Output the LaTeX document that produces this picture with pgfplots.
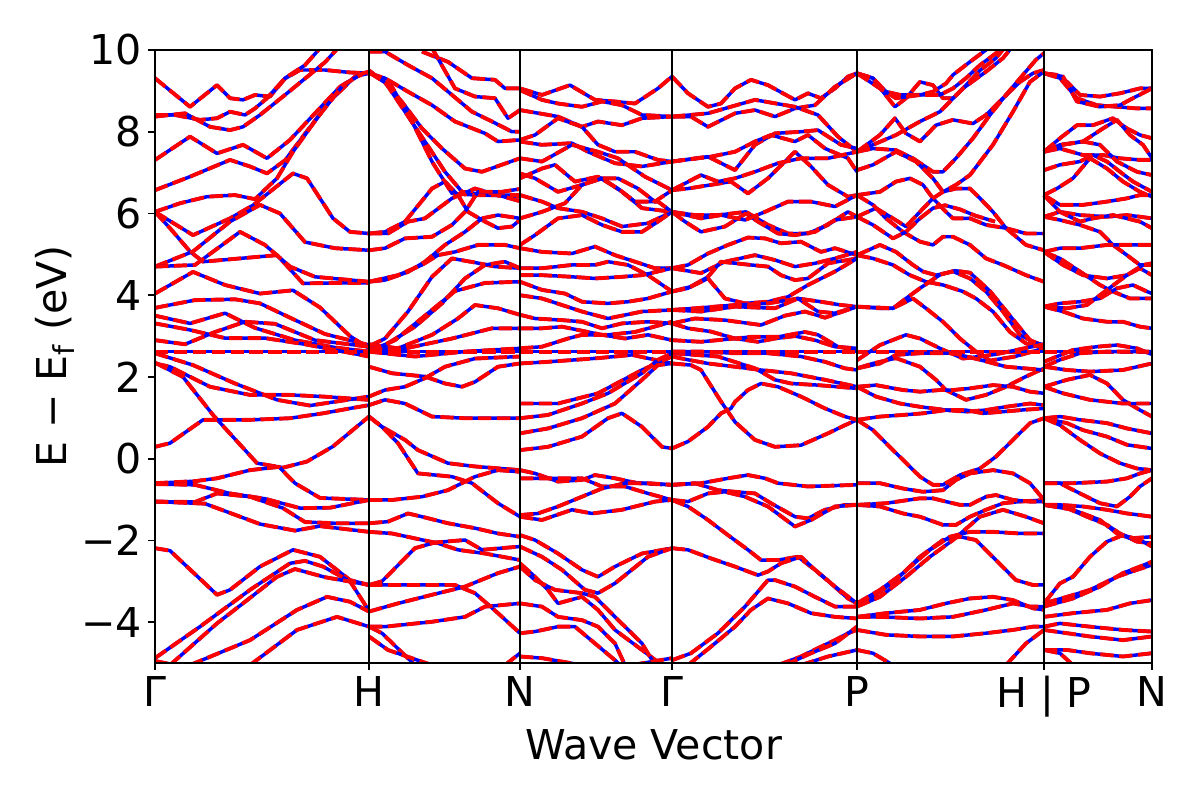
\documentclass[border=0pt]{standalone}
\usepackage{fontspec}
\setmainfont{DejaVu Sans}
\usepackage{pgfplots}
\pgfplotsset{compat=1.18}
\pgfplotsset{band/.style={red, line width=1.4pt, line join=round, dash pattern=on 4.8pt off 2.0pt, preaction={draw=blue, solid, line width=1.25pt, line join=round}}}
\begin{document}
\begin{tikzpicture}
\path[use as bounding box] (-55.8pt,-49.3pt) rectangle (376.2pt,238.7pt);
\begin{axis}[
 scale only axis, width=358.9pt, height=220.7pt,
 xmin=0, xmax=997, ymin=-5, ymax=10,
 xtick={0,214,365,517,702,889,997},
 xticklabels={Γ,H,N,Γ,P,H | P,N},
 ytick={-4,-2,0,2,4,6,8,10},
 yticklabels={−4,−2,0,2,4,6,8,10},
 tick align=outside, tick pos=left,
 major tick length=2.5pt,
 every tick/.style={black, line width=0.6pt},
 tick label style={font=\fontsize{14.8}{17}\selectfont, inner sep=2pt},
 xlabel={Wave Vector}, ylabel={E − E\textsubscript{f} (eV)},
 every axis x label/.style={at={(axis description cs:0.5,-0.134)}, anchor=center, font=\fontsize{14.8}{17}\selectfont},
 every axis y label/.style={at={(axis description cs:-0.1,0.5)}, anchor=center, rotate=90, font=\fontsize{14.8}{17}\selectfont},
 axis line style={line width=0.6pt},
 axis on top, xmajorgrids, major x grid style={black, line width=0.6pt},
]
% ---------- Gamma - H ----------
\addplot[band] coordinates {(0,9.31)(35,8.61)(62,9.14)(75,8.82)(88,8.78)(100,8.9)(115,8.86)(130,9.3)(145,9.51)(170,9.51)(195,9.45)(214,9.43)};
\addplot[band] coordinates {(0,8.41)(20,8.41)(45,8.29)(62,8.33)(75,8.49)(90,8.41)(100,8.57)(112,8.82)(130,9.31)(150,9.63)(162,9.96)(170,10.2)};
\addplot[band] coordinates {(0,8.37)(30,8.45)(55,8.12)(75,8.04)(88,8.12)(105,8.41)(130,8.9)(150,9.3)(170,9.7)(185,10.1)};
\addplot[band] coordinates {(0,7.31)(35,7.88)(62,7.47)(88,7.68)(112,7.35)(135,7.8)(160,8.45)(185,9.1)(205,9.4)(214,9.45)};
\addplot[band] coordinates {(0,6.57)(35,6.9)(75,7.31)(95,7.15)(112,6.98)(130,7.3)(150,7.95)(175,8.75)(200,9.35)(214,9.43)};
\addplot[band] coordinates {(0,6.04)(25,6.25)(52,6.41)(80,6.45)(100,6.35)(122,6.86)(138,7.51)(162,8.33)(188,9.14)(208,9.43)(214,9.47)};
\addplot[band] coordinates {(0,6.04)(15,5.64)(35,5.07)(48,4.82)(85,4.9)(122,4.98)(148,4.29)(180,4.3)(214,4.3)};
\addplot[band] coordinates {(0,6.04)(38,5.47)(75,5.88)(98,6.2)(138,6.98)(152,6.86)(178,5.88)(195,5.55)(214,5.51)};
\addplot[band] coordinates {(0,4.7)(38,5.07)(75,5.8)(105,6.21)(125,6.0)(150,5.3)(180,5.15)(214,5.1)};
\addplot[band] coordinates {(0,4.7)(40,4.74)(85,5.55)(110,5.23)(135,4.7)(160,4.45)(214,4.33)};
\addplot[band] coordinates {(0,4.04)(38,4.57)(70,4.25)(105,4.04)(138,4.12)(165,3.7)(195,3.0)(214,2.7)};
\addplot[band] coordinates {(0,3.69)(40,3.88)(80,3.9)(105,3.8)(135,3.45)(170,3.05)(214,2.78)};
\addplot[band] coordinates {(0,3.5)(35,3.31)(70,3.56)(100,3.2)(140,2.9)(180,2.72)(214,2.62)};
\addplot[band] coordinates {(0,3.31)(35,3.15)(70,2.95)(110,2.95)(150,2.8)(214,2.5)};
\addplot[band] coordinates {(0,2.9)(30,2.8)(60,3.1)(90,3.35)(120,3.3)(160,2.9)(214,2.74)};
\addplot[band] coordinates {(0,2.62)(214,2.62)};
\addplot[band] coordinates {(0,2.58)(38,2.29)(80,1.84)(122,1.44)(155,1.3)(214,1.52)};
\addplot[band] coordinates {(0,2.33)(15,2.25)(55,1.76)(95,1.56)(135,1.56)(168,1.52)(214,1.44)};
\addplot[band] coordinates {(0,2.35)(28,2.0)(58,1.07)(102,-0.11)(128,-0.22)(152,-0.07)(178,0.3)(214,1.03)};
\addplot[band] coordinates {(0,0.29)(15,0.38)(48,0.95)(95,0.95)(135,0.99)(168,1.11)(195,1.23)(214,1.31)};
\addplot[band] coordinates {(0,-0.6)(40,-0.55)(62,-0.48)(95,-0.28)(124,-0.2)(140,-0.6)(165,-0.96)(214,-1.01)};
\addplot[band] coordinates {(0,-0.62)(40,-0.64)(75,-0.85)(110,-0.98)(145,-1.21)(175,-1.2)(214,-1.01)};
\addplot[band] coordinates {(0,-1.05)(40,-1.06)(62,-0.85)(95,-0.93)(128,-1.21)(150,-1.55)(180,-1.58)(214,-1.58)};
\addplot[band] coordinates {(0,-1.05)(50,-1.1)(105,-1.6)(140,-1.76)(165,-1.65)(214,-1.79)};
\addplot[band] coordinates {(0,-2.19)(15,-2.25)(62,-3.33)(75,-3.21)(105,-2.64)(138,-2.23)(165,-2.4)(195,-2.97)(214,-3.09)};
\addplot[band] coordinates {(0,-4.88)(45,-4.11)(95,-3.21)(135,-2.56)(150,-2.5)(168,-2.64)(195,-3.0)(214,-3.72)};
\addplot[band] coordinates {(15,-5.05)(62,-4.03)(88,-3.54)(122,-2.89)(140,-2.7)(170,-2.9)(214,-3.09)};
\addplot[band] coordinates {(35,-5.05)(95,-4.44)(142,-3.7)(172,-3.38)(195,-3.5)(214,-3.74)};
\addplot[band] coordinates {(95,-5.05)(142,-4.19)(182,-3.87)(214,-4.11)};
\addplot[band] coordinates {(0,-4.95)(20,-5.05)};
% ---------- H - N ----------
\addplot[band] coordinates {(214,9.96)(230,9.96)(253,9.63)(277,9.31)(297,8.9)(317,8.49)(337,8.25)(357,8.0)(365,8.0)};
\addplot[band] coordinates {(267,9.96)(293,9.71)(317,9.31)(340,9.27)(350,9.06)(365,9.06)};
\addplot[band] coordinates {(277,10.05)(300,9.06)(320,8.86)(340,8.82)(353,8.33)(365,8.53)};
\addplot[band] coordinates {(214,9.43)(230,9.31)(253,8.98)(277,8.65)(300,8.25)(330,7.96)(343,7.76)(365,7.8)};
\addplot[band] coordinates {(214,9.5)(230,9.2)(247,8.73)(267,8.08)(287,7.59)(310,7.1)(327,7.02)(365,7.35)};
\addplot[band] coordinates {(230,9.22)(250,8.49)(270,7.76)(290,7.02)(307,6.53)(333,6.45)(365,6.41)};
\addplot[band] coordinates {(214,9.45)(237,9.1)(257,8.25)(277,7.27)(297,6.49)(320,6.45)(365,6.45)};
\addplot[band] coordinates {(214,5.51)(230,5.55)(250,5.8)(277,6.61)(290,6.78)(303,6.45)(313,6.04)(330,5.8)(343,5.64)(357,5.68)(365,5.84)};
\addplot[band] coordinates {(214,5.51)(233,5.51)(253,5.8)(270,5.88)(297,6.37)(320,6.61)(343,6.45)(365,6.3)};
\addplot[band] coordinates {(214,5.1)(230,5.15)(250,5.39)(277,5.43)(297,5.72)(310,6.04)(323,6.53)(347,6.53)(365,6.6)};
\addplot[band] coordinates {(214,4.33)(230,4.37)(253,4.57)(270,4.82)(290,5.23)(310,5.55)(327,5.88)(343,5.96)(365,5.88)};
\addplot[band] coordinates {(214,4.33)(243,4.49)(267,4.74)(283,4.98)(300,5.06)(323,5.23)(350,5.23)(365,5.15)};
\addplot[band] coordinates {(214,2.75)(230,2.94)(253,3.6)(277,4.45)(297,4.9)(320,4.8)(340,4.7)(365,4.66)};
\addplot[band] coordinates {(214,2.7)(230,2.78)(260,3.23)(287,3.8)(310,4.41)(330,4.74)(350,4.82)(365,4.66)};
\addplot[band] coordinates {(214,2.8)(243,2.7)(277,3.03)(303,3.43)(320,3.76)(343,3.68)(365,3.52)};
\addplot[band] coordinates {(214,2.7)(243,2.66)(297,2.94)(337,3.19)(365,3.19)};
\addplot[band] coordinates {(214,2.62)(260,2.5)(310,2.62)(365,2.7)};
\addplot[band] coordinates {(214,2.62)(240,2.9)(270,3.5)(300,4.1)(330,4.3)(365,4.33)};
\addplot[band] coordinates {(214,2.62)(365,2.62)};
\addplot[band] coordinates {(214,2.25)(237,2.09)(270,2.01)(290,1.84)(307,1.76)(320,1.88)(343,2.25)(365,2.33)};
\addplot[band] coordinates {(214,1.52)(230,1.68)(250,1.76)(270,1.97)(290,2.25)(320,2.45)(365,2.5)};
\addplot[band] coordinates {(214,1.31)(230,1.44)(250,1.35)(277,1.03)(310,0.99)(343,0.99)(365,0.99)};
\addplot[band] coordinates {(214,1.03)(227,0.78)(250,0.46)(263,0.21)(293,-0.11)(320,-0.19)(365,-0.28)};
\addplot[band] coordinates {(214,1.03)(227,0.78)(243,0.38)(263,-0.36)(297,-0.44)(317,-0.6)(343,-1.09)(365,-1.42)};
\addplot[band] coordinates {(214,-1.01)(237,-1.01)(267,-0.93)(293,-0.77)(320,-0.44)(343,-0.28)(365,-0.32)};
\addplot[band] coordinates {(214,-1.58)(233,-1.54)(253,-1.34)(267,-1.42)(293,-1.58)(320,-1.7)(343,-1.83)(365,-1.91)};
\addplot[band] coordinates {(214,-1.79)(237,-1.83)(260,-1.95)(283,-2.07)(303,-2.23)(330,-2.32)(365,-2.48)};
\addplot[band] coordinates {(214,-3.09)(227,-3.0)(260,-2.19)(280,-2.05)(310,-1.99)(327,-2.23)(365,-2.15)};
\addplot[band] coordinates {(214,-3.09)(243,-3.09)(300,-3.09)(320,-3.29)(343,-3.78)(365,-4.27)};
\addplot[band] coordinates {(214,-3.74)(243,-3.54)(277,-3.33)(310,-3.13)(343,-2.8)(365,-2.64)};
\addplot[band] coordinates {(214,-4.11)(230,-4.11)(277,-3.99)(310,-3.87)(330,-3.62)(365,-3.54)};
\addplot[band] coordinates {(214,-4.11)(227,-4.27)(260,-5.05)};
\addplot[band] coordinates {(214,-4.35)(233,-4.68)(277,-5.05)};
\addplot[band] coordinates {(350,-5.05)(365,-4.76)};
% ---------- N - Gamma ----------
\addplot[band] coordinates {(365,9.06)(387,8.9)(415,9.14)(440,8.78)(460,8.74)(480,8.69)(503,9.06)(517,9.35)};
\addplot[band] coordinates {(365,9.02)(387,8.78)(403,8.69)(427,8.61)(447,8.74)(467,8.65)(487,8.41)(517,8.37)};
\addplot[band] coordinates {(365,8.53)(403,8.37)(427,8.12)(443,8.25)(467,8.16)(487,8.33)(517,8.37)};
\addplot[band] coordinates {(365,7.8)(380,7.92)(403,8.33)(427,8.12)(443,7.68)(460,7.51)(480,7.51)(503,7.31)(517,7.27)};
\addplot[band] coordinates {(365,7.76)(387,7.68)(417,7.72)(433,7.51)(460,7.23)(487,7.15)(517,7.27)};
\addplot[band] coordinates {(365,7.35)(387,7.27)(417,7.68)(443,7.51)(463,7.35)(490,6.9)(517,6.57)};
\addplot[band] coordinates {(365,6.98)(380,6.86)(403,6.53)(427,6.7)(447,6.86)(467,6.53)(487,6.13)(517,6.04)};
\addplot[band] coordinates {(365,6.86)(387,7.1)(400,7.19)(420,6.78)(443,6.9)(463,6.61)(480,6.29)(503,6.29)(517,6.04)};
\addplot[band] coordinates {(365,6.45)(387,6.29)(403,6.13)(427,6.04)(447,5.88)(467,5.68)(493,5.76)(517,6.04)};
\addplot[band] coordinates {(365,5.88)(387,6.04)(410,6.25)(427,6.7)(447,6.86)(463,6.86)(483,6.61)(500,6.29)(517,6.57)};
\addplot[band] coordinates {(365,5.23)(380,5.47)(403,5.88)(427,5.96)(447,5.72)(467,5.55)(487,5.55)(503,5.8)(517,6.04)};
\addplot[band] coordinates {(365,5.15)(387,5.06)(417,5.02)(440,5.19)(460,4.98)(480,4.82)(500,4.66)(517,4.66)};
\addplot[band] coordinates {(365,4.66)(387,4.66)(417,4.74)(440,4.74)(453,4.82)(473,4.74)(493,4.49)(517,4.09)};
\addplot[band] coordinates {(365,4.49)(387,4.49)(417,4.45)(440,4.41)(467,4.45)(487,4.49)(517,4.66)};
\addplot[band] coordinates {(365,4.33)(387,4.13)(410,4.04)(427,3.84)(453,3.8)(473,3.84)(493,3.92)(517,4.09)};
\addplot[band] coordinates {(365,4.0)(387,3.92)(427,3.6)(453,3.43)(487,3.6)(517,3.64)};
\addplot[band] coordinates {(365,3.52)(380,3.43)(407,3.39)(427,3.35)(447,3.19)(467,3.31)(493,3.35)(517,3.31)};
\addplot[band] coordinates {(365,3.19)(387,3.19)(407,3.23)(447,3.03)(470,2.94)(493,3.03)(517,2.9)};
\addplot[band] coordinates {(365,2.7)(387,2.74)(413,2.94)(427,3.03)(453,3.03)(480,3.1)(517,3.35)};
\addplot[band] coordinates {(365,2.62)(517,2.62)};
\addplot[band] coordinates {(365,2.33)(393,2.37)(443,2.46)(477,2.54)(517,2.33)};
\addplot[band] coordinates {(365,1.35)(403,1.35)(443,1.6)(487,2.17)(517,2.5)};
\addplot[band] coordinates {(365,0.99)(393,1.07)(427,1.35)(453,1.6)(487,2.09)(503,2.42)(517,2.58)};
\addplot[band] coordinates {(365,0.62)(393,0.74)(427,0.99)(460,1.35)(487,1.93)(503,2.29)(517,2.33)};
\addplot[band] coordinates {(365,0.21)(393,0.29)(427,0.54)(453,0.99)(467,1.11)(487,0.78)(507,0.29)(517,0.25)};
\addplot[band] coordinates {(365,-0.28)(380,-0.36)(403,-0.56)(427,-0.52)(440,-0.4)(460,-0.48)(483,-0.6)(517,-0.64)};
\addplot[band] coordinates {(365,-0.48)(380,-0.48)(427,-0.48)(447,-0.68)(470,-0.68)(493,-0.85)(517,-1.01)};
\addplot[band] coordinates {(365,-1.38)(383,-1.34)(403,-1.17)(427,-0.93)(447,-0.73)(470,-0.6)(493,-0.6)(517,-0.64)};
\addplot[band] coordinates {(365,-1.42)(387,-1.5)(417,-1.25)(437,-1.34)(467,-1.25)(500,-1.05)(517,-1.01)};
\addplot[band] coordinates {(365,-1.87)(380,-1.99)(403,-2.32)(427,-2.72)(443,-2.89)(460,-2.64)(487,-2.32)(517,-2.19)};
\addplot[band] coordinates {(365,-2.15)(387,-2.4)(407,-2.72)(430,-3.21)(443,-3.29)(460,-3.05)(493,-2.4)(517,-2.19)};
\addplot[band] coordinates {(365,-2.56)(380,-2.89)(393,-3.21)(403,-3.54)(427,-3.38)(443,-3.7)(460,-4.19)(487,-4.68)(507,-5.05)};
\addplot[band] coordinates {(365,-2.64)(380,-2.97)(400,-3.21)(427,-3.29)(440,-3.38)(460,-3.87)(487,-4.52)(500,-5.05)};
\addplot[band] coordinates {(365,-3.54)(387,-3.62)(403,-3.87)(427,-3.95)(443,-4.11)(460,-4.52)(470,-5.05)};
\addplot[band] coordinates {(365,-4.27)(380,-4.23)(403,-4.11)(420,-4.11)(440,-4.52)(460,-4.93)(465,-5.05)};
\addplot[band] coordinates {(365,-4.84)(387,-4.88)(427,-5.05)};
\addplot[band] coordinates {(477,-5.05)(517,-4.88)};
% ---------- Gamma - P ----------
\addplot[band] coordinates {(517,9.35)(533,8.94)(553,8.61)(566,8.69)(580,9.06)(596,9.27)(613,9.14)(640,8.78)(653,8.94)(666,8.82)(680,9.06)(693,9.35)(702,9.43)};
\addplot[band] coordinates {(517,8.37)(536,8.37)(553,8.12)(580,8.45)(600,8.53)(620,8.37)(640,8.57)(660,8.65)(680,9.1)(702,9.43)};
\addplot[band] coordinates {(517,8.37)(553,8.45)(600,8.78)(640,8.61)(663,8.41)(683,7.88)(702,7.51)};
\addplot[band] coordinates {(517,7.27)(553,7.39)(580,7.06)(600,7.68)(620,7.96)(646,8.0)(663,8.04)(686,7.68)(702,7.59)};
\addplot[band] coordinates {(517,7.27)(556,7.39)(580,7.51)(600,7.76)(616,7.92)(640,7.76)(653,7.92)(670,7.59)(693,7.35)(702,7.02)};
\addplot[band] coordinates {(517,6.57)(533,6.61)(556,6.7)(576,6.78)(593,6.49)(613,6.86)(640,7.51)(656,7.15)(673,6.7)(693,6.41)(702,6.45)};
\addplot[band] coordinates {(517,6.57)(546,6.94)(563,6.78)(580,6.86)(600,7.02)(623,7.23)(646,7.35)(673,7.35)(702,7.51)};
\addplot[band] coordinates {(517,6.04)(540,5.96)(563,5.96)(591,6.04)(613,5.72)(633,5.51)(653,5.51)(673,5.72)(693,6.04)(702,5.92)};
\addplot[band] coordinates {(517,6.04)(530,5.8)(546,5.55)(570,5.68)(591,6.0)(603,5.8)(623,5.51)(640,5.47)(660,5.55)(680,5.84)(702,5.92)};
\addplot[band] coordinates {(517,6.04)(546,5.88)(566,5.96)(590,5.84)(610,6.04)(633,6.29)(656,6.29)(680,6.17)(702,6.45)};
\addplot[band] coordinates {(517,4.66)(533,4.74)(553,5.02)(573,5.23)(593,5.41)(610,5.39)(626,5.27)(646,5.31)(666,5.06)(680,5.15)(702,4.98)};
\addplot[band] coordinates {(517,4.66)(546,4.54)(570,4.82)(600,4.98)(620,4.86)(640,4.7)(660,4.78)(680,4.9)(702,5.06)};
\addplot[band] coordinates {(517,4.09)(533,4.17)(553,4.45)(566,4.82)(596,4.74)(613,4.7)(626,4.49)(640,4.37)(653,4.41)(673,4.78)(702,4.9)};
\addplot[band] coordinates {(517,4.09)(536,4.21)(553,4.41)(570,3.92)(590,3.8)(613,3.84)(633,3.96)(653,4.25)(680,4.58)(702,4.9)};
\addplot[band] coordinates {(517,3.64)(540,3.68)(580,3.76)(613,3.8)(643,3.92)(663,3.6)(680,3.56)(702,3.72)};
\addplot[band] coordinates {(517,3.64)(546,3.6)(580,3.72)(620,3.68)(643,3.92)(666,3.84)(686,3.76)(702,3.72)};
\addplot[band] coordinates {(517,3.31)(533,3.19)(556,3.11)(580,2.94)(603,2.86)(620,2.94)(640,3.0)(660,2.9)(680,2.74)(702,2.7)};
\addplot[band] coordinates {(517,3.31)(540,3.43)(570,3.39)(606,3.27)(630,3.5)(650,3.6)(670,3.45)(702,3.72)};
\addplot[band] coordinates {(517,2.9)(546,2.86)(596,2.98)(623,2.98)(650,3.1)(663,3.03)(683,2.74)(702,2.66)};
\addplot[band] coordinates {(517,2.62)(702,2.62)};
\addplot[band] coordinates {(517,2.33)(536,2.29)(546,2.17)(566,1.4)(580,0.9)(600,0.46)(620,0.29)(646,0.33)(673,0.62)(690,0.82)(702,0.95)};
\addplot[band] coordinates {(517,0.25)(533,0.42)(553,0.78)(566,1.11)(576,1.23)(580,1.39)(593,1.68)(606,1.84)(623,1.76)(646,1.52)(670,1.23)(690,1.03)(702,0.95)};
\addplot[band] coordinates {(517,2.5)(533,2.42)(553,2.33)(580,2.25)(606,2.17)(636,2.09)(670,1.93)(702,1.76)};
\addplot[band] coordinates {(517,2.58)(563,2.5)(600,2.21)(620,1.93)(636,1.84)(663,1.8)(702,1.72)};
\addplot[band] coordinates {(517,2.62)(546,2.62)(580,2.58)(613,2.58)(646,2.5)(670,2.37)(690,2.21)(702,2.17)};
\addplot[band] coordinates {(517,-0.64)(546,-0.6)(573,-0.48)(593,-0.4)(610,-0.48)(623,-0.6)(653,-0.68)(702,-0.64)};
\addplot[band] coordinates {(517,-0.64)(540,-0.6)(563,-0.77)(580,-0.81)(600,-0.85)(616,-1.09)(640,-1.42)(653,-1.46)(670,-1.25)(690,-1.13)(702,-1.13)};
\addplot[band] coordinates {(517,-1.01)(533,-1.05)(553,-0.85)(570,-0.81)(590,-0.93)(613,-1.17)(640,-1.66)(656,-1.5)(680,-1.17)(702,-1.13)};
\addplot[band] coordinates {(517,-1.01)(533,-1.17)(553,-1.5)(573,-1.87)(593,-2.23)(606,-2.48)(623,-2.48)(643,-2.4)(660,-2.72)(676,-3.05)(693,-3.42)(702,-3.54)};
\addplot[band] coordinates {(517,-2.19)(533,-2.23)(556,-2.44)(580,-2.64)(603,-2.85)(613,-2.76)(626,-2.56)(646,-2.4)(660,-2.72)(680,-3.13)(702,-3.54)};
\addplot[band] coordinates {(517,-4.93)(536,-4.76)(563,-4.27)(590,-3.62)(613,-2.97)(620,-2.97)(640,-3.13)(660,-3.38)(680,-3.62)(702,-3.62)};
\addplot[band] coordinates {(533,-5.05)(556,-4.6)(580,-4.11)(596,-3.7)(613,-3.42)(633,-3.54)(656,-3.78)(680,-3.87)(702,-3.91)};
\addplot[band] coordinates {(623,-5.05)(646,-4.84)(666,-4.6)(680,-4.44)(693,-4.27)(702,-4.19)};
\addplot[band] coordinates {(630,-5.05)(656,-4.76)(680,-4.52)(702,-4.11)};
\addplot[band] coordinates {(646,-5.05)(673,-4.84)(702,-4.68)};
% ---------- P - H ----------
\addplot[band] coordinates {(702,9.43)(718,9.31)(728,8.98)(740,8.61)(751,8.82)(765,9.22)(778,9.14)(788,8.82)(798,8.82)(808,9.06)(825,9.5)(841,9.8)(851,10.1)};
\addplot[band] coordinates {(702,9.43)(718,9.31)(731,8.98)(745,8.9)(765,8.9)(778,8.98)(791,9.18)(798,9.39)(815,9.71)(831,10.0)(835,10.1)};
\addplot[band] coordinates {(702,9.43)(725,9.06)(741,8.82)(765,8.9)(785,8.9)(798,9.06)(811,9.31)(825,9.63)(841,9.92)(848,10.1)};
\addplot[band] coordinates {(702,7.51)(718,7.68)(741,7.92)(765,8.25)(785,8.49)(808,9.06)(831,9.47)(848,9.8)(858,10.1)};
\addplot[band] coordinates {(702,7.51)(725,7.92)(740,8.33)(751,7.96)(765,7.76)(781,8.16)(798,8.29)(818,8.2)(831,8.41)(848,8.82)(865,9.22)(878,9.43)(889,9.51)};
\addplot[band] coordinates {(702,7.51)(718,7.59)(741,7.55)(758,7.35)(778,7.02)(788,7.02)(801,7.35)(818,7.84)(835,8.41)(851,8.9)(868,9.39)(881,9.76)(889,9.92)};
\addplot[band] coordinates {(702,7.06)(718,7.19)(741,7.51)(761,7.27)(778,6.86)(788,6.53)(801,6.7)(815,6.94)(838,7.68)(858,8.49)(875,9.22)(889,9.47)};
\addplot[band] coordinates {(702,6.45)(725,6.53)(741,6.78)(755,6.86)(768,6.7)(778,6.37)(791,6.04)(798,5.88)(815,5.88)(831,5.72)(851,5.64)(871,5.51)(889,5.51)};
\addplot[band] coordinates {(702,6.45)(718,6.21)(731,5.88)(748,5.55)(765,5.31)(778,5.23)(788,5.43)(798,5.43)(815,5.23)(831,4.9)(848,4.74)(871,4.49)(889,4.33)};
\addplot[band] coordinates {(702,5.92)(721,6.13)(738,5.88)(751,5.68)(765,6.04)(778,6.37)(788,6.53)(801,6.61)(815,6.61)(825,6.37)(838,6.04)(851,5.64)(871,5.23)(889,5.1)};
\addplot[band] coordinates {(702,5.92)(718,5.72)(738,5.39)(751,5.55)(765,5.88)(778,6.13)(790,6.2)(805,6.1)(820,5.95)(840,5.8)};
\addplot[band] coordinates {(702,4.98)(725,5.23)(741,5.06)(758,4.74)(768,4.58)(781,4.49)(798,4.58)(815,4.41)(831,4.09)(848,3.6)(865,3.03)(878,2.86)(889,2.78)};
\addplot[band] coordinates {(702,4.98)(718,4.9)(738,4.74)(755,4.49)(771,4.33)(788,4.25)(808,4.09)(821,3.92)(838,3.6)(855,3.1)(871,2.82)(889,2.7)};
\addplot[band] coordinates {(702,3.72)(725,3.68)(738,3.68)(751,3.92)(765,4.17)(785,4.5)(800,4.6)(815,4.55)(835,4.1)(855,3.5)(875,2.9)(889,2.75)};
\addplot[band] coordinates {(702,3.72)(738,3.68)(758,3.92)(771,3.68)(788,3.35)(805,2.94)(821,2.62)(835,2.4)(860,2.5)(889,2.7)};
\addplot[band] coordinates {(702,2.62)(889,2.62)};
\addplot[band] coordinates {(702,2.41)(725,2.78)(751,3.03)(765,2.94)(785,2.7)(808,2.45)(840,2.55)(889,2.8)};
\addplot[band] coordinates {(702,2.21)(718,2.33)(741,2.46)(765,2.25)(781,1.93)(791,1.68)(811,1.44)(831,1.56)(851,1.76)(871,2.01)(889,2.21)};
\addplot[band] coordinates {(702,2.21)(725,2.33)(741,2.54)(765,2.58)(798,2.58)(825,2.42)(851,2.25)(889,2.17)};
\addplot[band] coordinates {(702,1.76)(721,1.8)(748,1.68)(765,1.64)(785,1.68)(798,1.68)(815,1.72)(838,1.8)(858,1.76)(875,1.64)(889,1.6)};
\addplot[band] coordinates {(702,1.76)(721,1.52)(745,1.35)(765,1.27)(791,1.19)(811,1.15)(831,1.19)(851,1.27)(875,1.35)(889,1.31)};
\addplot[band] coordinates {(702,0.95)(725,1.03)(748,1.07)(768,1.11)(791,1.19)(811,1.19)(828,1.11)(848,1.15)(871,1.2)(889,1.23)};
\addplot[band] coordinates {(702,0.95)(718,0.7)(731,0.38)(748,-0.03)(765,-0.44)(778,-0.64)(788,-0.64)(805,-0.4)(825,-0.24)(841,0.05)(858,0.46)(875,0.87)(889,0.99)};
\addplot[band] coordinates {(702,-0.6)(725,-0.6)(748,-0.73)(768,-0.81)(788,-0.77)(801,-0.52)(815,-0.36)(838,-0.28)(858,-0.36)(875,-0.6)(889,-1.01)};
\addplot[band] coordinates {(702,-1.13)(725,-1.17)(748,-1.34)(765,-1.42)(788,-1.62)(801,-1.62)(815,-1.42)(831,-1.25)(848,-1.09)(865,-1.05)(889,-1.01)};
\addplot[band] coordinates {(702,-1.13)(731,-1.09)(765,-0.97)(778,-0.97)(791,-1.05)(805,-1.13)(815,-1.13)(831,-0.93)(841,-0.89)(858,-1.01)(875,-1.05)(889,-1.05)};
\addplot[band] coordinates {(702,-3.54)(718,-3.38)(741,-2.97)(765,-2.4)(788,-1.99)(805,-1.91)(821,-1.99)(841,-2.48)(861,-2.97)(878,-3.09)(889,-3.09)};
\addplot[band] coordinates {(702,-3.54)(725,-3.21)(748,-2.8)(775,-2.23)(795,-1.91)(815,-1.79)(838,-1.79)(865,-1.83)(889,-1.83)};
\addplot[band] coordinates {(702,-3.62)(725,-3.38)(751,-2.89)(775,-2.4)(798,-1.99)(825,-1.42)(848,-1.25)(871,-1.42)(889,-1.58)};
\addplot[band] coordinates {(702,-3.87)(731,-3.78)(765,-3.7)(791,-3.54)(815,-3.42)(838,-3.38)(858,-3.46)(878,-3.66)(889,-3.7)};
\addplot[band] coordinates {(702,-3.87)(725,-3.87)(765,-3.91)(798,-3.87)(831,-3.7)(858,-3.54)(875,-3.62)(889,-3.62)};
\addplot[band] coordinates {(702,-4.19)(731,-4.31)(765,-4.35)(798,-4.35)(831,-4.27)(858,-4.19)(878,-4.11)(889,-4.11)};
\addplot[band] coordinates {(702,-4.68)(718,-4.76)(738,-5.05)};
\addplot[band] coordinates {(851,-5.05)(871,-4.52)(889,-4.19)};
% ---------- P - N ----------
\addplot[band] coordinates {(889,9.43)(902,9.39)(912,9.22)(925,8.9)(945,8.86)(965,8.94)(985,9.06)(997,9.06)};
\addplot[band] coordinates {(889,9.43)(905,9.31)(922,8.82)(942,8.65)(962,8.61)(982,8.57)(997,8.57)};
\addplot[band] coordinates {(889,9.43)(908,9.35)(922,8.74)(945,8.61)(965,8.65)(978,8.82)(997,9.06)};
\addplot[band] coordinates {(889,7.51)(905,7.84)(922,8.16)(938,8.16)(958,8.33)(972,8.08)(985,7.92)(997,7.84)};
\addplot[band] coordinates {(889,7.51)(905,7.68)(928,7.76)(948,8.08)(962,8.29)(975,7.92)(988,7.68)(997,7.35)};
\addplot[band] coordinates {(889,7.51)(905,7.59)(928,7.43)(948,7.43)(965,7.35)(985,7.31)(997,7.31)};
\addplot[band] coordinates {(889,7.51)(908,7.68)(928,7.76)(945,7.68)(962,7.27)(982,7.02)(997,6.94)};
\addplot[band] coordinates {(889,7.06)(905,7.19)(925,7.27)(938,7.43)(952,7.27)(965,7.02)(978,6.78)(997,6.53)};
\addplot[band] coordinates {(889,6.45)(902,6.61)(918,6.86)(935,7.35)(952,7.1)(968,6.78)(985,6.53)(997,6.41)};
\addplot[band] coordinates {(889,6.45)(905,6.21)(928,6.21)(952,6.29)(972,6.37)(985,6.45)(997,6.45)};
\addplot[band] coordinates {(889,5.92)(905,6.04)(925,5.96)(952,5.92)(972,5.96)(985,5.92)(997,5.88)};
\addplot[band] coordinates {(889,5.92)(905,5.84)(925,5.72)(945,5.55)(958,5.23)(972,4.98)(985,4.74)(997,4.74)};
\addplot[band] coordinates {(889,6.45)(905,6.04)(925,5.8)(938,5.88)(958,5.96)(985,5.8)(997,5.64)};
\addplot[band] coordinates {(889,5.06)(905,5.15)(925,5.15)(952,5.23)(972,5.23)(997,5.23)};
\addplot[band] coordinates {(889,5.06)(905,4.9)(925,4.58)(945,4.25)(958,4.09)(975,3.92)(997,3.92)};
\addplot[band] coordinates {(889,5.06)(908,4.74)(928,4.49)(952,4.41)(972,4.49)(985,4.66)(997,4.49)};
\addplot[band] coordinates {(889,3.72)(905,3.8)(925,3.84)(945,3.92)(962,4.17)(978,4.25)(992,4.09)(997,4.04)};
\addplot[band] coordinates {(889,3.72)(908,3.6)(928,3.43)(952,3.35)(968,3.35)(985,3.23)(997,3.19)};
\addplot[band] coordinates {(889,3.72)(912,3.68)(932,3.76)(952,4.13)(972,4.49)(988,4.74)(997,4.78)};
\addplot[band] coordinates {(889,2.62)(997,2.62)};
\addplot[band] coordinates {(889,2.37)(918,2.66)(942,2.74)(962,2.78)(982,2.7)(997,2.55)};
\addplot[band] coordinates {(889,2.25)(905,2.42)(925,2.58)(952,2.62)(997,2.62)};
\addplot[band] coordinates {(889,2.25)(912,2.17)(935,2.13)(968,2.17)(997,2.33)};
\addplot[band] coordinates {(889,1.76)(912,1.93)(935,2.05)(952,1.84)(968,1.44)(985,1.19)(997,1.03)};
\addplot[band] coordinates {(889,1.76)(908,1.6)(935,1.44)(968,1.35)(997,1.35)};
\addplot[band] coordinates {(889,0.99)(905,1.03)(925,0.95)(952,0.87)(972,0.74)(997,0.62)};
\addplot[band] coordinates {(889,0.99)(912,0.87)(928,0.7)(952,0.54)(972,0.34)(997,0.25)};
\addplot[band] coordinates {(889,0.99)(905,0.82)(925,0.46)(945,0.13)(965,-0.11)(982,-0.24)(997,-0.28)};
\addplot[band] coordinates {(889,-0.6)(918,-0.6)(952,-0.56)(972,-0.48)(985,-0.36)(997,-0.28)};
\addplot[band] coordinates {(889,-0.6)(905,-0.6)(925,-0.85)(945,-1.09)(962,-1.17)(975,-0.93)(985,-0.68)(997,-0.48)};
\addplot[band] coordinates {(889,-1.13)(905,-1.13)(928,-1.17)(952,-1.25)(972,-1.34)(985,-1.38)(997,-1.42)};
\addplot[band] coordinates {(889,-1.13)(912,-1.21)(932,-1.42)(952,-1.62)(965,-1.83)(982,-2.03)(997,-2.07)};
\addplot[band] coordinates {(889,-1.13)(918,-1.25)(945,-1.5)(962,-1.83)(975,-1.95)(997,-1.91)};
\addplot[band] coordinates {(889,-3.54)(905,-3.05)(918,-2.89)(935,-2.4)(952,-2.03)(968,-1.87)(985,-1.99)(997,-2.15)};
\addplot[band] coordinates {(889,-3.54)(912,-3.38)(935,-3.21)(962,-2.89)(982,-2.72)(997,-2.6)};
\addplot[band] coordinates {(889,-3.62)(918,-3.42)(945,-3.13)(968,-2.8)(985,-2.64)(997,-2.52)};
\addplot[band] coordinates {(889,-3.87)(918,-3.78)(952,-3.7)(975,-3.54)(997,-3.46)};
\addplot[band] coordinates {(889,-4.11)(905,-4.03)(935,-4.11)(968,-4.19)(997,-4.23)};
\addplot[band] coordinates {(889,-4.19)(912,-4.27)(935,-4.35)(968,-4.44)(997,-4.35)};
\addplot[band] coordinates {(889,-4.68)(912,-4.68)(935,-4.76)(968,-4.84)(997,-4.76)};
\addplot[band] coordinates {(889,-4.68)(905,-4.76)(918,-5.05)};
\end{axis}
\end{tikzpicture}
\end{document}
